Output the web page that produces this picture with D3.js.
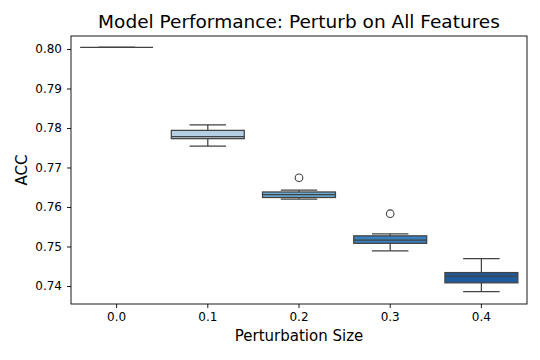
<!DOCTYPE html>
<html><head><meta charset="utf-8">
<script src="https://cdn.jsdelivr.net/npm/d3@7"></script>
<style>body{margin:0;background:#fff;} text{font-family:"DejaVu Sans",sans-serif;}</style>
</head><body>
<svg id="c" width="540" height="360"></svg>
<script>
const categories = ["0.0","0.1","0.2","0.3","0.4"];
const whiskerLow  = [0.8004, 0.7754, 0.7620, 0.7489, 0.7386];
const q1          = [0.8004, 0.7773, 0.7624, 0.7508, 0.7408];
const median      = [0.8004, 0.7778, 0.7631, 0.7516, 0.7425];
const q3          = [0.8004, 0.7794, 0.7638, 0.7527, 0.7434];
const whiskerHigh = [0.8004, 0.7808, 0.7643, 0.7532, 0.7469];
const outliers    = [[], [], [0.7674], [0.7583], []];
const boxColors   = ["#cfdeee", "#b4cfe4", "#6aaad2", "#3a80ba", "#1f5a9c"];
const yTicks = [0.74, 0.75, 0.76, 0.77, 0.78, 0.79, 0.80];

const svg = d3.select("#c");
const m = {l:71, r:527, t:36, b:304};
const x = d3.scaleBand().domain(categories).range([m.l, m.r]).paddingInner(0).paddingOuter(0);
const y = d3.scaleLinear().domain([0.73544, 0.80329]).range([m.b, m.t]);
const bw = x.bandwidth()*0.8;
const line = "#424242";

const data = categories.map((c,i)=>({c, lo:whiskerLow[i], q1:q1[i], med:median[i], q3:q3[i], hi:whiskerHigh[i], out:outliers[i], col:boxColors[i]}));

const g = svg.append("g");
data.forEach(d=>{
  const cx = x(d.c) + x.bandwidth()/2;
  g.append("line").attr("x1",cx).attr("x2",cx).attr("y1",y(d.q3)).attr("y2",y(d.hi)).attr("stroke",line).attr("stroke-width",1.25);
  g.append("line").attr("x1",cx).attr("x2",cx).attr("y1",y(d.q1)).attr("y2",y(d.lo)).attr("stroke",line).attr("stroke-width",1.25);
  g.append("line").attr("x1",cx-bw/4).attr("x2",cx+bw/4).attr("y1",y(d.hi)).attr("y2",y(d.hi)).attr("stroke",line).attr("stroke-width",1.25);
  g.append("line").attr("x1",cx-bw/4).attr("x2",cx+bw/4).attr("y1",y(d.lo)).attr("y2",y(d.lo)).attr("stroke",line).attr("stroke-width",1.25);
  g.append("rect").attr("x",cx-bw/2).attr("width",bw).attr("y",y(d.q3)).attr("height",Math.max(0,y(d.q1)-y(d.q3)))
    .attr("fill",d.col).attr("stroke",line).attr("stroke-width",1.25);
  g.append("line").attr("x1",cx-bw/2).attr("x2",cx+bw/2).attr("y1",y(d.med)).attr("y2",y(d.med)).attr("stroke",line).attr("stroke-width",1.25);
  d.out.forEach(o=>{
    g.append("circle").attr("cx",cx).attr("cy",y(o)).attr("r",3.8).attr("fill","none").attr("stroke",line).attr("stroke-width",1.1);
  });
});

svg.append("rect").attr("x",m.l).attr("y",m.t).attr("width",m.r-m.l).attr("height",m.b-m.t).attr("fill","none").attr("stroke","#000").attr("stroke-width",0.9);

const xa = svg.append("g").attr("transform",`translate(0,${m.b})`).call(d3.axisBottom(x).tickSize(4).tickPadding(4));
const ya = svg.append("g").attr("transform",`translate(${m.l},0)`).call(d3.axisLeft(y).tickValues(yTicks).tickFormat(d3.format(".2f")).tickSize(4).tickPadding(5));
[xa,ya].forEach(a=>{a.select(".domain").remove(); a.selectAll("text").attr("font-size",12).attr("fill","#000").style("font-family","DejaVu Sans"); a.selectAll("line").attr("stroke","#000").attr("stroke-width",0.9);});

svg.append("text").attr("x",(m.l+m.r)/2).attr("y",28).attr("text-anchor","middle").attr("font-size",18.5).attr("fill","#000").text("Model Performance: Perturb on All Features");
svg.append("text").attr("x",(m.l+m.r)/2).attr("y",341).attr("text-anchor","middle").attr("font-size",15).attr("fill","#000").text("Perturbation Size");
svg.append("text").attr("transform",`translate(27,${(m.t+m.b)/2}) rotate(-90)`).attr("text-anchor","middle").attr("font-size",15).attr("fill","#000").text("ACC");
</script>
</body></html>
